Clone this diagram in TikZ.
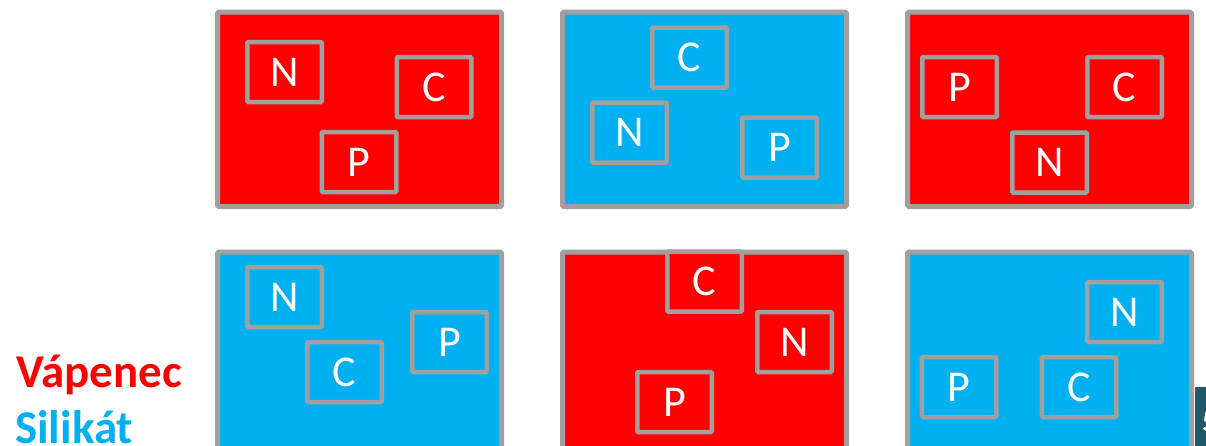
\documentclass[tikz,border=0pt]{standalone}
\usepackage{fontspec}
\setmainfont{Carlito}
\usepackage{tikz}
\usetikzlibrary{positioning}
\usepackage{xcolor}
\definecolor{vapred}{RGB}{255,0,0}
\definecolor{silblue}{RGB}{0,176,240}
\definecolor{rimgray}{RGB}{160,160,160}
\definecolor{slideteal}{RGB}{33,89,104}

\begin{document}
\begin{tikzpicture}[x=1pt, y=-1pt,
        slab/.style={draw=rimgray, line width=5pt, rounded corners=1.5pt, minimum width=284pt, minimum height=194.5pt, inner sep=0pt},
        lowslab/.style={slab, minimum height=204pt},
        grain/.style={draw=rimgray, line width=4.5pt, rounded corners=1pt, minimum width=74.5pt, minimum height=60pt, inner sep=0pt, text=white, font=\fontsize{44}{44}\selectfont},
        legend/.style={font=\fontsize{47}{47}\selectfont\bfseries, anchor=base west, inner sep=0pt}
    ]
    \useasboundingbox (0,0) rectangle (1206,445);
    \clip (0,0) rectangle (1206,445);
    % Horni rada
    \node[slab, fill=vapred] (s1) at (359.5,109.25) {};
    \node[slab, fill=silblue] (s2) at (704.5,109.25) {};
    \node[slab, fill=vapred] (s3) at (1049.5,109.25) {};
    % Dolni rada
    \node[lowslab, fill=silblue] (s4) at (359.5,354) {};
    \node[lowslab, fill=vapred] (s5) at (704.5,354) {};
    \node[lowslab, fill=silblue] (s6) at (1049.5,354) {};
    % Zrna
    \node[grain, fill=vapred] (n1) at (284.5,72) {N};
    \node[grain, fill=vapred] (c1) at (434,87) {C};
    \node[grain, fill=vapred] (p1) at (359,162) {P};
    \node[grain, fill=silblue] (c2) at (689.5,57.5) {C};
    \node[grain, fill=silblue] (n2) at (629.5,132.5) {N};
    \node[grain, fill=silblue] (p2) at (779.5,147.5) {P};
    \node[grain, fill=vapred] (p3) at (959.5,87) {P};
    \node[grain, fill=vapred] (c3) at (1124.5,87) {C};
    \node[grain, fill=vapred] (n3) at (1049.5,162.5) {N};
    \node[grain, fill=silblue] (n4) at (284.5,297) {N};
    \node[grain, fill=silblue] (c4) at (344.5,372) {C};
    \node[grain, fill=silblue] (p4) at (449.5,342) {P};
    \node[grain, fill=vapred] (c5) at (704.5,281.5) {C};
    \node[grain, fill=vapred] (n5) at (794.5,342) {N};
    \node[grain, fill=vapred] (p5) at (674.5,402) {P};
    \node[grain, fill=silblue] (n6) at (1124.5,312) {N};
    \node[grain, fill=silblue] (p6) at (959,387) {P};
    \node[grain, fill=silblue] (c6) at (1079,387) {C};
    % Legenda
    \node[legend, text=vapred] (vap) at (16,387) {Vápenec};
    \node[legend, text=silblue] (sil) at (15,443) {Silikát};
    % Cislo snimku
    \node[fill=slideteal, anchor=north west, minimum width=30pt, minimum height=70pt, inner sep=0pt] (tab) at (1195,387) {};
    \node[text=white, font=\fontsize{30}{30}\selectfont\bfseries, anchor=base west, inner sep=0pt] (pgno) at (1202,431) {5};
\end{tikzpicture}
\end{document}
